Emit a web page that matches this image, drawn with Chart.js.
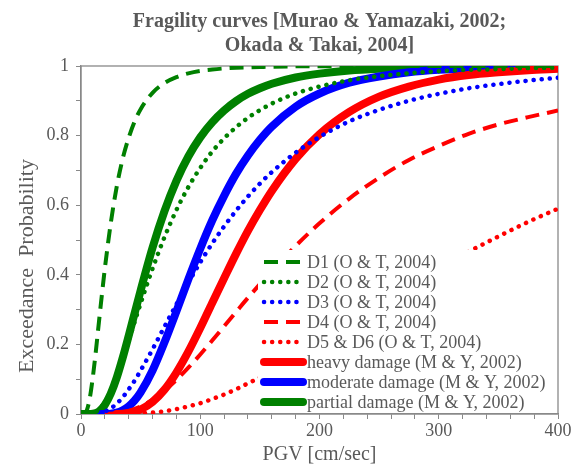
<!DOCTYPE html>
<html>
<head>
<meta charset="utf-8">
<script src="https://cdn.jsdelivr.net/npm/chart.js@4"></script>
<style>
  html, body { margin: 0; padding: 0; background: #fff; }
  #wrap { width: 583px; height: 471px; }
</style>
</head>
<body>
<div id="wrap"><canvas id="chart" width="583" height="471"></canvas></div>
<script>
// PGV steps [cm/sec] shared by every curve
const pgv = [0, 2.5, 5, 7.5, 10, 12.5, 15, 17.5, 20, 25, 30, 35, 40, 45, 50, 60, 70, 80, 90, 100,
  110, 120, 130, 140, 150, 160, 180, 200, 225, 250, 275, 300, 325, 350, 375, 400];

// exceedance probability (null = not drawn there)
const d1 = [0, 0.0005, 0.012, 0.048, 0.108, 0.182, 0.263, 0.342, 0.418, 0.549, 0.654, 0.734, 0.794, 0.841, 0.876,
  0.923, 0.951, 0.968, 0.979, 0.986, 0.990, 0.993, 0.995, 0.996, 0.997, 0.998, 0.999, 0.999, 1, 1, 1, 1, 1, 1, 1, 1];
const d2 = [0, 0, 0.0001, 0.0006, 0.002, 0.006, 0.012, 0.022, 0.034, 0.068, 0.110, 0.159, 0.211, 0.265, 0.318,
  0.418, 0.508, 0.586, 0.652, 0.707, 0.754, 0.792, 0.824, 0.851, 0.873, 0.892, 0.921, 0.941, 0.959, 0.971, 0.979,
  0.985, 0.989, 0.991, 0.994, 0.995];
const d3 = [null, null, null, null, null, null, 0.002, 0.004, 0.007, 0.016, 0.030, 0.048, 0.071, 0.096, 0.125,
  0.186, 0.251, 0.315, 0.377, 0.436, 0.490, 0.539, 0.584, 0.625, 0.662, 0.695, 0.751, 0.796, 0.841, 0.874, 0.900,
  0.920, 0.936, 0.948, 0.958, 0.966];
const d4 = [null, null, null, null, null, null, null, null, 0.0003, 0.001, 0.0025, 0.005, 0.009, 0.015, 0.022,
  0.041, 0.067, 0.098, 0.133, 0.171, 0.211, 0.252, 0.293, 0.334, 0.373, 0.411, 0.483, 0.548, 0.619, 0.679, 0.730,
  0.770, 0.805, 0.832, 0.853, 0.872];
const d56 = [null, null, null, null, null, null, null, null, null, null, null, null, 0.0006, 0.001, 0.002,
  0.004, 0.008, 0.014, 0.022, 0.031, 0.043, 0.056, 0.071, 0.088, 0.105, 0.124, 0.164, 0.207, 0.261, 0.315, 0.368,
  0.418, 0.466, 0.510, 0.552, 0.590];
const heavy = [null, null, null, null, null, null, null, null, null, null, 0, 0.001, 0.003, 0.007, 0.013,
  0.035, 0.070, 0.119, 0.179, 0.247, 0.319, 0.390, 0.460, 0.526, 0.586, 0.641, 0.733, 0.804, 0.868, 0.912, 0.941,
  0.961, 0.974, 0.982, 0.988, 0.992];
const moderate = [null, null, null, null, null, null, null, 0, 0.0002, 0.001, 0.004, 0.011, 0.022, 0.039, 0.062,
  0.125, 0.206, 0.295, 0.387, 0.475, 0.556, 0.627, 0.690, 0.743, 0.788, 0.826, 0.883, 0.921, 0.952, 0.970, 0.982,
  0.989, 0.993, 0.995, 0.997, 0.998];
const partial = [0, 0, 0, 0, 0.001, 0.003, 0.007, 0.015, 0.026, 0.059, 0.105, 0.162, 0.225, 0.290, 0.355,
  0.478, 0.583, 0.670, 0.740, 0.795, 0.838, 0.872, 0.899, 0.920, 0.936, 0.949, 0.967, 0.978, 0.987, 0.992, 0.995,
  0.997, 0.998, 0.999, 0.999, 0.999];

const seriesLabels = ['D1 (O & T, 2004)', 'D2 (O & T, 2004)', 'D3 (O & T, 2004)', 'D4 (O & T, 2004)',
  'D5 & D6 (O & T, 2004)', 'heavy damage (M & Y, 2002)', 'moderate damage (M & Y, 2002)', 'partial damage (M & Y, 2002)'];

const GREEN = '#008000', BLUE = '#0000ff', RED = '#ff0000', TEXT = '#595959', AXIS = '#898989';
const FONT = "'Liberation Serif', 'Times New Roman', serif";

const dashed = (color) => ({ borderColor: color, borderWidth: 4, borderDash: [14, 8], borderCapStyle: 'butt' });
const dotted = (color) => ({ borderColor: color, borderWidth: 4.5, borderDash: [0.1, 8], borderCapStyle: 'round' });
const thick = (color) => ({ borderColor: color, borderWidth: 8, borderDash: [], borderCapStyle: 'round' });

const toPoints = (ys) => pgv.map((x, i) => ({ x, y: ys[i] }));

const datasets = [
  { label: seriesLabels[0], data: toPoints(d1), ...dashed(GREEN) },
  { label: seriesLabels[1], data: toPoints(d2), ...dotted(GREEN) },
  { label: seriesLabels[2], data: toPoints(d3), ...dotted(BLUE) },
  { label: seriesLabels[3], data: toPoints(d4), ...dashed(RED) },
  { label: seriesLabels[4], data: toPoints(d56), ...dotted(RED) },
  { label: seriesLabels[5], data: toPoints(heavy), ...thick(RED) },
  { label: seriesLabels[6], data: toPoints(moderate), ...thick(BLUE) },
  { label: seriesLabels[7], data: toPoints(partial), ...thick(GREEN) }
].map(d => ({ ...d, pointRadius: 0, fill: false, cubicInterpolationMode: 'monotone', spanGaps: false }));

// box round the plot (top and right edges)
const frame = {
  id: 'frame',
  beforeDatasetsDraw(chart) {
    const { ctx, chartArea: a } = chart;
    ctx.save();
    ctx.strokeStyle = AXIS;
    ctx.lineWidth = 1.3;
    ctx.strokeRect(a.left, a.top, a.right - a.left, a.bottom - a.top);
    ctx.restore();
  }
};

// legend inside the plot, white box over the curves
const innerLegend = {
  id: 'innerLegend',
  afterDatasetsDraw(chart) {
    const { ctx, chartArea: a } = chart;
    ctx.save();
    ctx.fillStyle = '#fff';
    ctx.fillRect(a.left + 177, a.top + 184, a.right - 1 - (a.left + 177), a.bottom - 1 - (a.top + 184));
    chart.data.datasets.forEach((ds, i) => {
      const y = a.bottom - 152 + i * 20;
      ctx.beginPath();
      ctx.strokeStyle = ds.borderColor;
      ctx.lineWidth = ds.borderWidth;
      ctx.lineCap = ds.borderCapStyle;
      ctx.setLineDash(ds.borderDash);
      ctx.moveTo(a.left + 183, y);
      ctx.lineTo(a.left + 222, y);
      ctx.stroke();
      ctx.setLineDash([]);
      ctx.fillStyle = TEXT;
      ctx.font = '18px ' + FONT;
      ctx.textAlign = 'left';
      ctx.textBaseline = 'middle';
      ctx.fillText(ds.label, a.left + 226, y + 1);
    });
    ctx.restore();
  }
};

// y axis title
const yTitle = {
  id: 'yTitle',
  afterDraw(chart) {
    const { ctx } = chart;
    ctx.save();
    ctx.translate(27, 266);
    ctx.rotate(-Math.PI / 2);
    ctx.fillStyle = TEXT;
    ctx.font = '22px ' + FONT;
    ctx.textAlign = 'center';
    ctx.textBaseline = 'middle';
    ctx.fillText('Exceedance  Probability', 0, 0);
    ctx.restore();
  }
};

new Chart(document.getElementById('chart'), {
  type: 'line',
  data: { datasets },
  options: {
    responsive: false,
    animation: false,
    devicePixelRatio: 1,
    layout: { padding: { left: 0, right: 25, top: 0, bottom: 0 } },
    plugins: {
      legend: { display: false },
      tooltip: { enabled: false },
      title: {
        display: true,
        fullSize: false,
        text: ['Fragility curves [Murao & Yamazaki, 2002;', 'Okada & Takai, 2004]'],
        color: TEXT,
        font: { family: FONT, size: 20, weight: 'bold', lineHeight: 1.2 },
        padding: { top: 10, bottom: 8 }
      }
    },
    scales: {
      x: {
        type: 'linear',
        min: 0, max: 400,
        afterFit: (s) => { s.height = 57; },
        border: { display: true, color: AXIS, width: 1.3 },
        grid: { drawOnChartArea: false, drawTicks: true, tickLength: 5, color: AXIS },
        ticks: {
          stepSize: 20,
          maxRotation: 0,
          autoSkip: false,
          padding: 1,
          color: TEXT,
          font: { family: FONT, size: 18 },
          callback: (v) => (v % 100 === 0 ? String(v) : '')
        },
        title: {
          display: true,
          text: 'PGV [cm/sec]',
          color: TEXT,
          font: { family: FONT, size: 20, lineHeight: 1.2 },
          padding: { top: 0, bottom: 4 }
        }
      },
      y: {
        min: 0, max: 1,
        afterFit: (s) => { s.width = 81; },
        border: { display: true, color: AXIS, width: 1.3 },
        grid: { drawOnChartArea: false, drawTicks: true, tickLength: 5, color: AXIS },
        ticks: {
          stepSize: 0.1,
          autoSkip: false,
          padding: 7,
          color: TEXT,
          font: { family: FONT, size: 18 },
          callback: (v, i) => (i % 2 === 0 ? String(Math.round(v * 10) / 10) : '')
        }
      }
    }
  },
  plugins: [frame, innerLegend, yTitle]
});
</script>
</body>
</html>
